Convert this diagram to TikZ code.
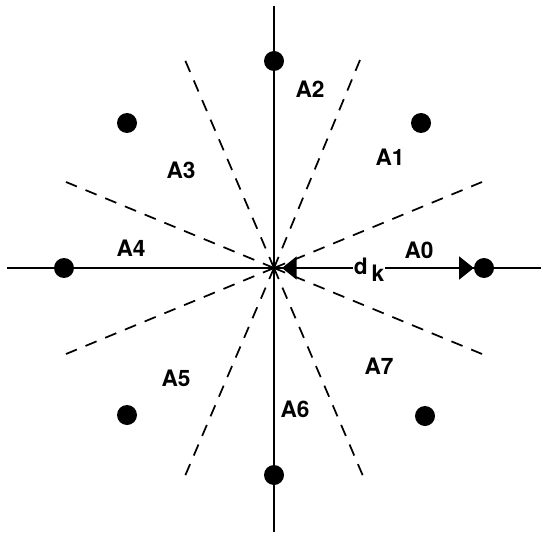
\documentclass[tikz,border=0pt]{standalone}
\usepackage{fontspec}
\setmainfont{TeX Gyre Heros}
\usetikzlibrary{arrows.meta}

\begin{document}
\begin{tikzpicture}[x=0.75pt, y=-0.75pt,
  dot/.style={circle, fill=black, inner sep=0pt, minimum size=15pt},
  area/.style={font=\fontsize{17}{19}\selectfont\bfseries, inner sep=0pt},
  sector/.style={dashed, line width=1.3pt, dash pattern=on 9pt off 7pt}]
\useasboundingbox (0,0) rectangle (541,534);
% axes
\coordinate (o) at (274,268);
\coordinate (top) at (274,6);
\coordinate (bot) at (274,532);
\coordinate (lft) at (7,268);
\coordinate (rgt) at (541,268);
\draw[line width=2.2pt] (top) -- (bot);
\draw[line width=2.2pt] (lft) -- (rgt);
% sector borders
\coordinate (s0) at (482,182);
\coordinate (s1) at (360,60);
\coordinate (s2) at (185,60);
\coordinate (s3) at (66,182);
\coordinate (s4) at (66,354);
\coordinate (s5) at (185,476);
\coordinate (s6) at (363,476);
\coordinate (s7) at (482,354);
\draw[sector] (o) -- (s0);
\draw[sector] (o) -- (s1);
\draw[sector] (o) -- (s2);
\draw[sector] (o) -- (s3);
\draw[sector] (o) -- (s4);
\draw[sector] (o) -- (s5);
\draw[sector] (o) -- (s6);
\draw[sector] (o) -- (s7);
% constellation points
\node[dot] (p0) at (484,268) {};
\node[dot] (p1) at (421,123) {};
\node[dot] (p2) at (274,61) {};
\node[dot] (p3) at (127,123) {};
\node[dot] (p4) at (64,268) {};
\node[dot] (p5) at (127,415) {};
\node[dot] (p6) at (274,475) {};
\node[dot] (p7) at (425,416) {};
% distance
\draw[line width=2.2pt, {Triangle[length=11pt,width=17pt]}-{Triangle[length=11pt,width=17pt]}, shorten <=6pt] (o) -- (p0.west);
\node[fill=white, inner sep=1pt, font=\fontsize{17}{19}\selectfont\bfseries] (dk) at (369,270) {d\,\raisebox{-0.55ex}{k}};
% areas
\node[area] (a0) at (419,250) {A0};
\node[area] (a1) at (390,157) {A1};
\node[area] (a2) at (310,89) {A2};
\node[area] (a3) at (181,170) {A3};
\node[area] (a4) at (131,248) {A4};
\node[area] (a5) at (176,378) {A5};
\node[area] (a6) at (295,409) {A6};
\node[area] (a7) at (379,366) {A7};
\end{tikzpicture}
\end{document}
